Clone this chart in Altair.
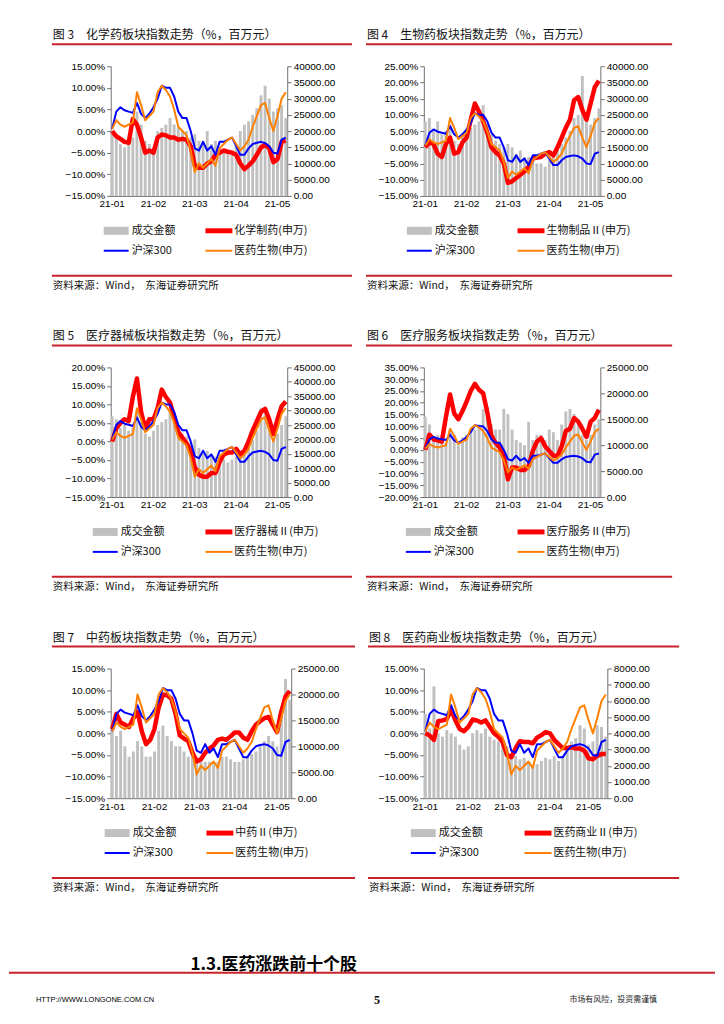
import altair as alt
import pandas as pd

# ---------------- data ----------------
N = 43
x_labels = ["21-01", "21-02", "21-03", "21-04", "21-05"]

hs300 = [0.5, 4.5, 5.5, 4.8, 4.5, 4.2, 6.5, 4.0, 3.0, 4.0, 5.5, 7.5, 10.5, 10.0, 10.0, 8.0, 4.5, 3.0,
         3.0, 0.0, -4.0, -4.5, -2.5, -4.5, -3.5, -5.5, -2.5, -2.5, -2.0, -1.5, -3.5, -5.5, -5.5, -4.0,
         -3.0, -2.7, -2.5, -2.8, -3.5, -5.0, -5.2, -2.0, -1.5]
yyss = [0.5, 2.5, 1.5, 1.0, 1.5, 2.0, 9.0, 6.0, 2.5, 3.5, 4.5, 9.0, 10.5, 9.5, 8.0, 5.0, 1.0, 0.0,
        -1.0, -4.5, -9.5, -7.5, -8.5, -7.5, -6.5, -8.0, -4.0, -3.0, -2.0, -1.5, -3.0, -4.5, -3.5,
        -2.0, 1.0, 3.5, 6.0, 6.5, 3.0, 0.0, 3.5, 7.5, 9.0]

chem = [0.0, -1.2, -1.8, -2.5, -2.7, 2.8, 1.5, -1.5, -5.0, -4.5, -5.0, -1.5, -0.8, -1.0, -1.5, -1.5,
        -2.0, -1.8, -2.0, -3.5, -8.0, -8.5, -8.5, -7.5, -7.0, -5.5, -5.0, -4.5, -4.8, -5.0, -5.5,
        -7.5, -8.8, -8.0, -7.0, -5.5, -3.8, -3.2, -4.0, -7.2, -6.5, -2.5, -2.2]
bio = [0.0, 1.5, 1.0, -2.0, -3.0, 1.0, 3.0, -2.0, -1.5, 1.5, 3.0, 8.5, 13.5, 11.0, 8.0, 4.5, 0.0,
       -1.5, -2.5, -5.0, -11.0, -10.5, -9.5, -8.5, -7.5, -6.0, -3.5, -3.2, -3.0, -2.0, -1.5, -2.5,
       0.0, 3.0, 6.0, 8.5, 14.5, 15.5, 11.5, 8.5, 13.5, 18.5, 20.5]
device = [0.0, 3.5, 5.0, 6.0, 5.5, 12.0, 17.0, 8.0, 3.5, 6.0, 6.0, 9.0, 14.0, 12.0, 10.5, 6.5, 2.5,
          1.0, -0.5, -2.5, -7.0, -9.0, -9.5, -9.5, -8.5, -8.5, -5.5, -3.5, -3.0, -3.0, -2.0, -3.5,
          -2.5, 0.0, 3.0, 5.5, 8.0, 8.8, 6.0, 2.0, 6.0, 9.5, 10.8]
service = [0.0, 6.5, 4.5, 4.0, 3.5, 14.0, 23.5, 15.5, 13.0, 16.5, 20.5, 25.0, 28.0, 25.5, 24.0, 16.0,
           6.0, 3.0, 1.0, -2.5, -12.5, -7.5, -7.5, -8.5, -8.5, -7.0, -0.5, 3.5, 5.0, 1.5, -0.5,
           -2.5, -2.5, 1.5, 8.0, 9.0, 13.5, 12.0, 9.0, 5.5, 12.0, 13.5, 17.0]
tcm = [1.0, 4.5, 2.5, 2.0, 1.5, 3.5, 5.0, 0.5, -2.5, -1.5, 1.0, 6.0, 9.0, 8.8, 8.0, 4.5, -0.5, -1.2,
       -1.8, -4.5, -6.5, -6.0, -4.5, -3.5, -2.8, -1.5, -1.2, -1.5, -0.7, 0.2, 0.2, -1.0, -1.5, 0.5,
       2.0, 2.8, 3.5, 3.8, 2.0, 0.3, 5.0, 8.5, 9.8]
commerce = [0.0, -0.5, -1.5, 2.8, 3.0, 3.3, 5.5, 3.0, 1.0, 0.5, 1.5, 3.2, 3.0, 2.5, 3.0, 1.5, 0.0,
            -0.8, -2.0, -5.0, -5.5, -3.5, -1.8, -2.0, -2.0, -2.3, -1.0, -0.4, 0.3, 0.0, -1.5, -2.5,
            -3.4, -3.4, -3.2, -3.5, -3.5, -4.0, -5.8, -6.0, -5.2, -4.8, -4.8]

amt_chem = [20000, 19000, 16000, 15000, 16000, 18000, 26000, 22000, 17000, 16000, 15000, 20000, 21000,
            22000, 24000, 22000, 21000, 20000, 20000, 18000, 19000, 17000, 17000, 20000, 16000, 17000,
            15000, 14000, 13000, 14000, 16000, 20000, 22000, 23000, 25000, 27000, 31000, 34000, 30000,
            26000, 27000, 28000, 24000]
amt_bio = [23000, 24000, 20000, 23000, 19000, 20000, 22000, 17000, 16000, 19000, 18000, 21000, 22000,
           23000, 28000, 22000, 19000, 17000, 16000, 15000, 16000, 15000, 13000, 14000, 12000, 12000,
           11000, 10000, 10000, 9000, 11000, 13000, 15000, 16000, 18000, 20000, 24000, 25000, 37000,
           24000, 22000, 24000, 27000]
amt_device = [28000, 27000, 24000, 25000, 23000, 24000, 30000, 26000, 22000, 21000, 23000, 25000, 26000,
              27000, 30000, 26000, 23000, 22000, 21000, 19000, 20000, 17000, 15000, 16000, 15000, 14000,
              13000, 13000, 12000, 13000, 14000, 15000, 17000, 19000, 20000, 23000, 31000, 30000, 24000,
              20000, 22000, 25000, 28000]
amt_service = [15500, 14000, 11000, 12000, 11000, 10500, 13000, 12000, 10000, 11500, 12000, 12500, 13000,
               14000, 17000, 17500, 14000, 13000, 13000, 17000, 16000, 13000, 11000, 10500, 10000, 14500,
               11000, 12000, 12000, 11000, 13000, 12500, 11000, 14000, 16500, 17000, 16000, 15000, 12000,
               11000, 12000, 14000, 15000]
amt_tcm = [15000, 12000, 13000, 10000, 8000, 9000, 11000, 10000, 8000, 8000, 9000, 13000, 14000, 12000,
           11000, 10000, 10000, 9000, 8000, 9000, 8000, 7500, 7000, 7000, 6500, 7000, 8000, 8000, 7500,
           7000, 7000, 7500, 8000, 8500, 9000, 10000, 11000, 12000, 11000, 10000, 16000, 23000, 19000]
amt_commerce = [5200, 4300, 6900, 4000, 3800, 4200, 4000, 3800, 3300, 3000, 3200, 4000, 4200, 4000, 4300,
                3800, 3600, 3500, 3400, 3200, 2800, 2600, 2400, 2500, 2200, 2000, 2100, 2300, 2500, 2400,
                2600, 2300, 2600, 3000, 3500, 3700, 4500, 4300, 3300, 3500, 4500, 4400, 3800]

fig_titles = ["图\u00a03\u2003化学药板块指数走势（%，百万元）", "图\u00a04\u2003生物药板块指数走势（%，百万元）",
              "图\u00a05\u2003医疗器械板块指数走势（%，百万元）", "图\u00a06\u2003医疗服务板块指数走势（%，百万元）",
              "图\u00a07\u2003中药板块指数走势（%，百万元）", "图\u00a08\u2003医药商业板块指数走势（%，百万元）"]
sector_names = ["化学制药(申万)", "生物制品Ⅱ(申万)", "医疗器械Ⅱ(申万)", "医疗服务Ⅱ(申万)",
                "中药Ⅱ(申万)", "医药商业Ⅱ(申万)"]
bar_name = "成交金额"
hs_name = "沪深300"
yy_name = "医药生物(申万)"
source_text = "资料来源：Wind，\u00a0\u00a0东海证券研究所"
section_text = "1.3.医药涨跌前十个股"
url_text = "HTTP://WWW.LONGONE.COM.CN"
page_no = "5"
risk_text = "市场有风险，投资需谨慎"

sector_values = [chem, bio, device, service, tcm, commerce]
turnover = [amt_chem, amt_bio, amt_device, amt_service, amt_tcm, amt_commerce]
left_domains = [[-15, 15], [-15, 25], [-15, 20], [-20, 35], [-15, 15], [-15, 15]]
right_domains = [[0, 40000], [0, 40000], [0, 45000], [0, 25000], [0, 25000], [0, 8000]]
right_steps = [5000, 5000, 5000, 5000, 5000, 1000]
x_label_pos = [[0, 10, 20, 30, 40], [0, 10, 20, 30, 40], [0, 10, 20, 30, 40],
               [0, 10, 20, 30, 40], [0, 10, 20, 29, 39], [0, 10, 19, 29, 38]]

# ---------------- layout / style ----------------
widths = [177, 177, 177, 177, 181, 184]
H = 130
leg_bar_x = [-7, -17, -18, -18, -6, -13]
leg_line_x = [95, 94, 95, 94, 96, 101]
rule_x = [(-59, 242), (-58, 249), (-59, 242), (-58, 249), (-59, 245), (-56, 256)]

RED = "#FF0000"
BLUE = "#0000FF"
ORANGE = "#FF8000"
GRAY = "#C0C0C0"
RULE = "#C8232B"
AXC = "#707070"
FONT = "Liberation Sans"
CJK = "Noto Sans CJK SC"

one = pd.DataFrame({"k": [0]})


def txt(s, x, y, size, font=CJK, align="left", weight="normal", color="#111111"):
    return alt.Chart(one).mark_text(text=s, align=align, baseline="middle", font=font,
                                    fontSize=size, fontWeight=weight, color=color).encode(
        x=alt.value(x), y=alt.value(y))


def hrule(x1, x2, y, color, width):
    return alt.Chart(one).mark_rule(color=color, strokeWidth=width).encode(
        x=alt.value(x1), x2=alt.value(x2), y=alt.value(y))


def box(x1, x2, y1, y2, color):
    return alt.Chart(one).mark_rect(color=color).encode(
        x=alt.value(x1), x2=alt.value(x2), y=alt.value(y1), y2=alt.value(y2))


def ternary(idx, labels):
    expr = "''"
    for v, l in reversed(list(zip(idx, labels))):
        expr = f"datum.value == {v} ? '{l}' : {expr}"
    return expr


def panel(k):
    w = widths[k]
    df = pd.DataFrame({"i": list(range(N)), "amt": turnover[k], "sector": sector_values[k],
                       "hs300": hs300, "yyss": yyss})
    base = alt.Chart(df)
    xenc = alt.X("i:O", title=None,
                 scale=alt.Scale(paddingInner=0.3, paddingOuter=0),
                 axis=alt.Axis(values=x_label_pos[k], labelExpr=ternary(x_label_pos[k], x_labels),
                               labelAngle=0, ticks=False, labelPadding=3, domainColor=AXC))
    ld = left_domains[k]
    rd = right_domains[k]
    yl_scale = alt.Scale(domain=ld, nice=False, zero=False)
    yl_axis = alt.Axis(orient="left", values=list(range(ld[0], ld[1] + 1, 5)),
                       labelExpr="format(datum.value, '.2f') + '%'", title=None,
                       tickSize=4, labelPadding=2)
    bars = base.mark_bar(color=GRAY).encode(
        x=xenc,
        y=alt.Y("amt:Q", title=None, scale=alt.Scale(domain=rd, nice=False),
                axis=alt.Axis(orient="right", values=list(range(0, rd[1] + 1, right_steps[k])),
                              format=".2f", title=None, tickSize=4, labelPadding=2)))
    red = base.mark_line(color=RED, strokeWidth=4.5, strokeJoin="round").encode(
        x=xenc, y=alt.Y("sector:Q", title=None, scale=yl_scale, axis=yl_axis))
    blue = base.mark_line(color=BLUE, strokeWidth=2, strokeJoin="round").encode(
        x=xenc, y=alt.Y("hs300:Q", title=None, scale=yl_scale, axis=yl_axis))
    orange = base.mark_line(color=ORANGE, strokeWidth=2, strokeJoin="round").encode(
        x=xenc, y=alt.Y("yyss:Q", title=None, scale=yl_scale, axis=yl_axis))
    lines = alt.layer(red, blue, orange)

    r0, r1 = rule_x[k]
    bx = leg_bar_x[k]
    lx = leg_line_x[k]
    deco = [
        txt(fig_titles[k], r0 + 1, -31, 12),
        hrule(r0, r1, -22, RULE, 2),
        box(bx, bx + 25, 161, 169, GRAY),
        txt(bar_name, bx + 28, 165, 11),
        hrule(lx, lx + 27, 165, RED, 5),
        txt(sector_names[k], lx + 29, 165, 11),
        hrule(bx, bx + 25, 185, BLUE, 2),
        txt(hs_name, bx + 28, 185, 11),
        hrule(lx, lx + 27, 185, ORANGE, 2),
        txt(yy_name, lx + 29, 185, 11),
        hrule(r0, r1, 210, RULE, 2),
        txt(source_text, r0 + 1, 220, 10.5),
    ]
    if k == 0:
        deco.append(hrule(-102, -100, -56, "#ffffff", 1))
    if k == 4:
        deco += [
            txt(section_text, 80, 297, 17, weight="bold", color="#000000"),
            hrule(-102, 606, 305, RULE, 2),
            txt(url_text, -75, 332, 7.5, font=FONT, color="#000000"),
            txt(page_no, 267, 332, 12, font="Liberation Serif", align="center", weight="bold",
                color="#000000"),
            txt(risk_text, 460, 332, 8, color="#222222"),
        ]
    return alt.layer(bars, lines, *deco).resolve_scale(y="independent").properties(width=w, height=H)


chart = alt.concat(*[panel(k) for k in range(6)], columns=2,
                   spacing={"row": 172, "column": 133}, bounds="flush", align="each").properties(
    padding={"left": 0, "top": 0, "right": 0, "bottom": 0}
).configure_view(stroke=None).configure_axis(
    labelFont=FONT, labelFontSize=10, labelColor="#000000", domainColor=AXC, tickColor=AXC,
    grid=False, domainWidth=1
)

chart.save("out.html", embed_options={"renderer": "svg", "actions": False})
